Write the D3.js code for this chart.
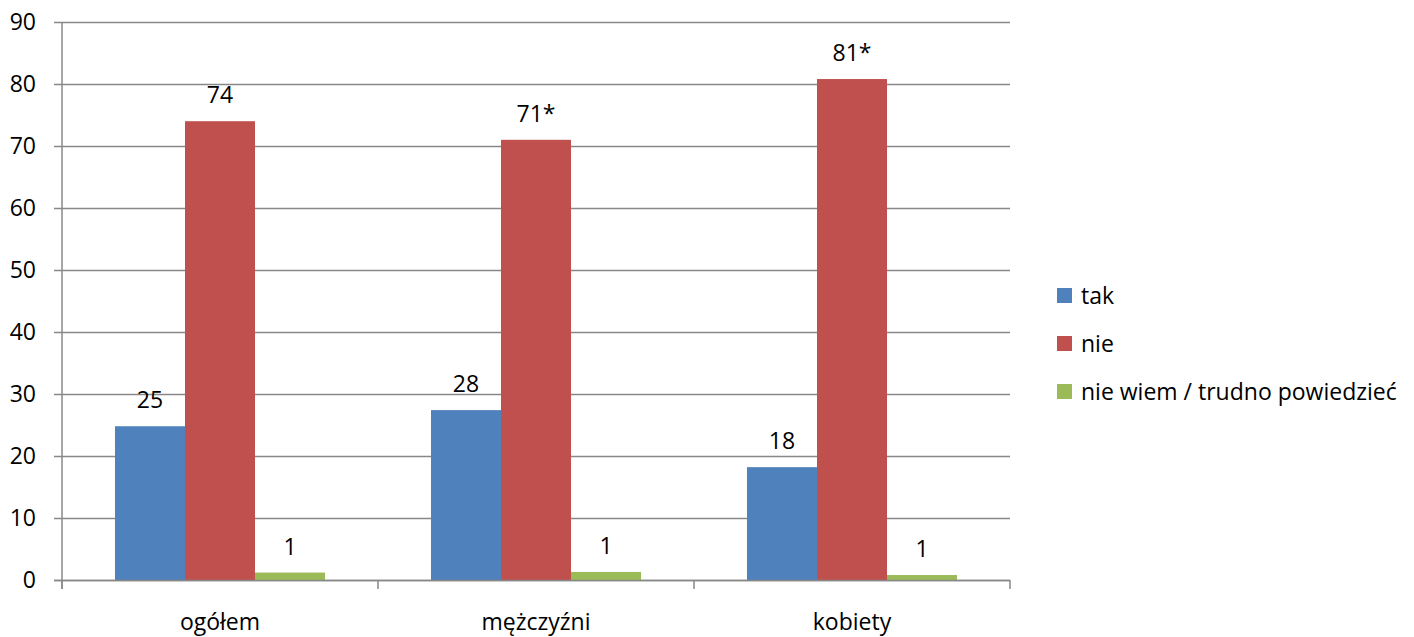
<!DOCTYPE html>
<html><head><meta charset="utf-8">
<script src="https://cdn.jsdelivr.net/npm/d3@7"></script>
<style>body{margin:0;background:#fff}svg{display:block}text{font-family:"Open Sans",sans-serif;fill:#000}</style>
</head><body><svg id="c" width="1414" height="637"></svg>
<script>
const categories = ["ogółem","mężczyźni","kobiety"];
const seriesNames = ["tak","nie","nie wiem / trudno powiedzieć"];
const tak = [24.8, 27.4, 18.2];
const nie = [74, 71, 80.8];
const nieWiem = [1.2, 1.3, 0.8];
const labelsTak = ["25","28","18"];
const labelsNie = ["74","71*","81*"];
const labelsNieWiem = ["1","1","1"];
const yTicks = [0,10,20,30,40,50,60,70,80,90];
const colors = ["#4F81BD","#C0504D","#9BBB59"];

const series = [tak, nie, nieWiem];
const labels = [labelsTak, labelsNie, labelsNieWiem];
const FS = 23;

const svg = d3.select("#c");
const L = 62, R = 1010, T = 22, B = 580;
const x = d3.scaleBand().domain(categories).range([L, R]).paddingInner(0).paddingOuter(0);
const y = d3.scaleLinear().domain([0, 90]).range([B, T]);
const groupW = x.bandwidth() * 210/316;
const x1 = d3.scaleBand().domain(d3.range(3)).range([0, groupW]).padding(0);
const off = (x.bandwidth() - groupW) / 2;
const grey = "#888888";

// gridlines
svg.append("g").selectAll("line").data(yTicks).join("line")
  .attr("x1", L - 8).attr("x2", R).attr("y1", d => y(d) + 0.5).attr("y2", d => y(d) + 0.5)
  .attr("stroke", grey).attr("stroke-width", 1.5);

// y axis labels
svg.append("g").selectAll("text").data(yTicks).join("text")
  .attr("x", 36).attr("y", d => y(d)).attr("dy", "0.35em").attr("text-anchor", "end")
  .attr("font-size", FS).text(d => d);

// y axis line
svg.append("line").attr("x1", L).attr("x2", L).attr("y1", T).attr("y2", B + 9)
  .attr("stroke", grey).attr("stroke-width", 1.5);

// bars
categories.forEach((c, ci) => {
  series.forEach((s, si) => {
    const bx = x(c) + off + x1(si);
    svg.append("rect").attr("x", bx).attr("y", y(s[ci])).attr("width", x1.bandwidth())
      .attr("height", B - y(s[ci])).attr("fill", colors[si]);
    svg.append("text").attr("x", bx + x1.bandwidth()/2).attr("y", y(s[ci]) - 18)
      .attr("text-anchor", "middle").attr("font-size", FS).text(labels[si][ci]);
  });
});

// x axis
svg.append("line").attr("x1", L - 8).attr("x2", R).attr("y1", B + 0.5).attr("y2", B + 0.5)
  .attr("stroke", grey).attr("stroke-width", 1.5);
const xt = categories.map(c => x(c)).concat([R]);
svg.append("g").selectAll("line").data(xt).join("line")
  .attr("x1", d => d).attr("x2", d => d).attr("y1", B).attr("y2", B + 9)
  .attr("stroke", grey).attr("stroke-width", 1.5);
svg.append("g").selectAll("text").data(categories).join("text")
  .attr("x", d => x(d) + x.bandwidth()/2).attr("y", 630).attr("text-anchor", "middle")
  .attr("font-size", FS).text(d => d);

// legend
const lg = svg.append("g");
seriesNames.forEach((n, i) => {
  const ly = 296 + i * 48;
  lg.append("rect").attr("x", 1057).attr("y", ly - 8).attr("width", 15).attr("height", 15).attr("fill", colors[i]);
  lg.append("text").attr("x", 1081).attr("y", ly).attr("dy", "0.35em").attr("font-size", FS).text(n);
});
</script></body></html>
